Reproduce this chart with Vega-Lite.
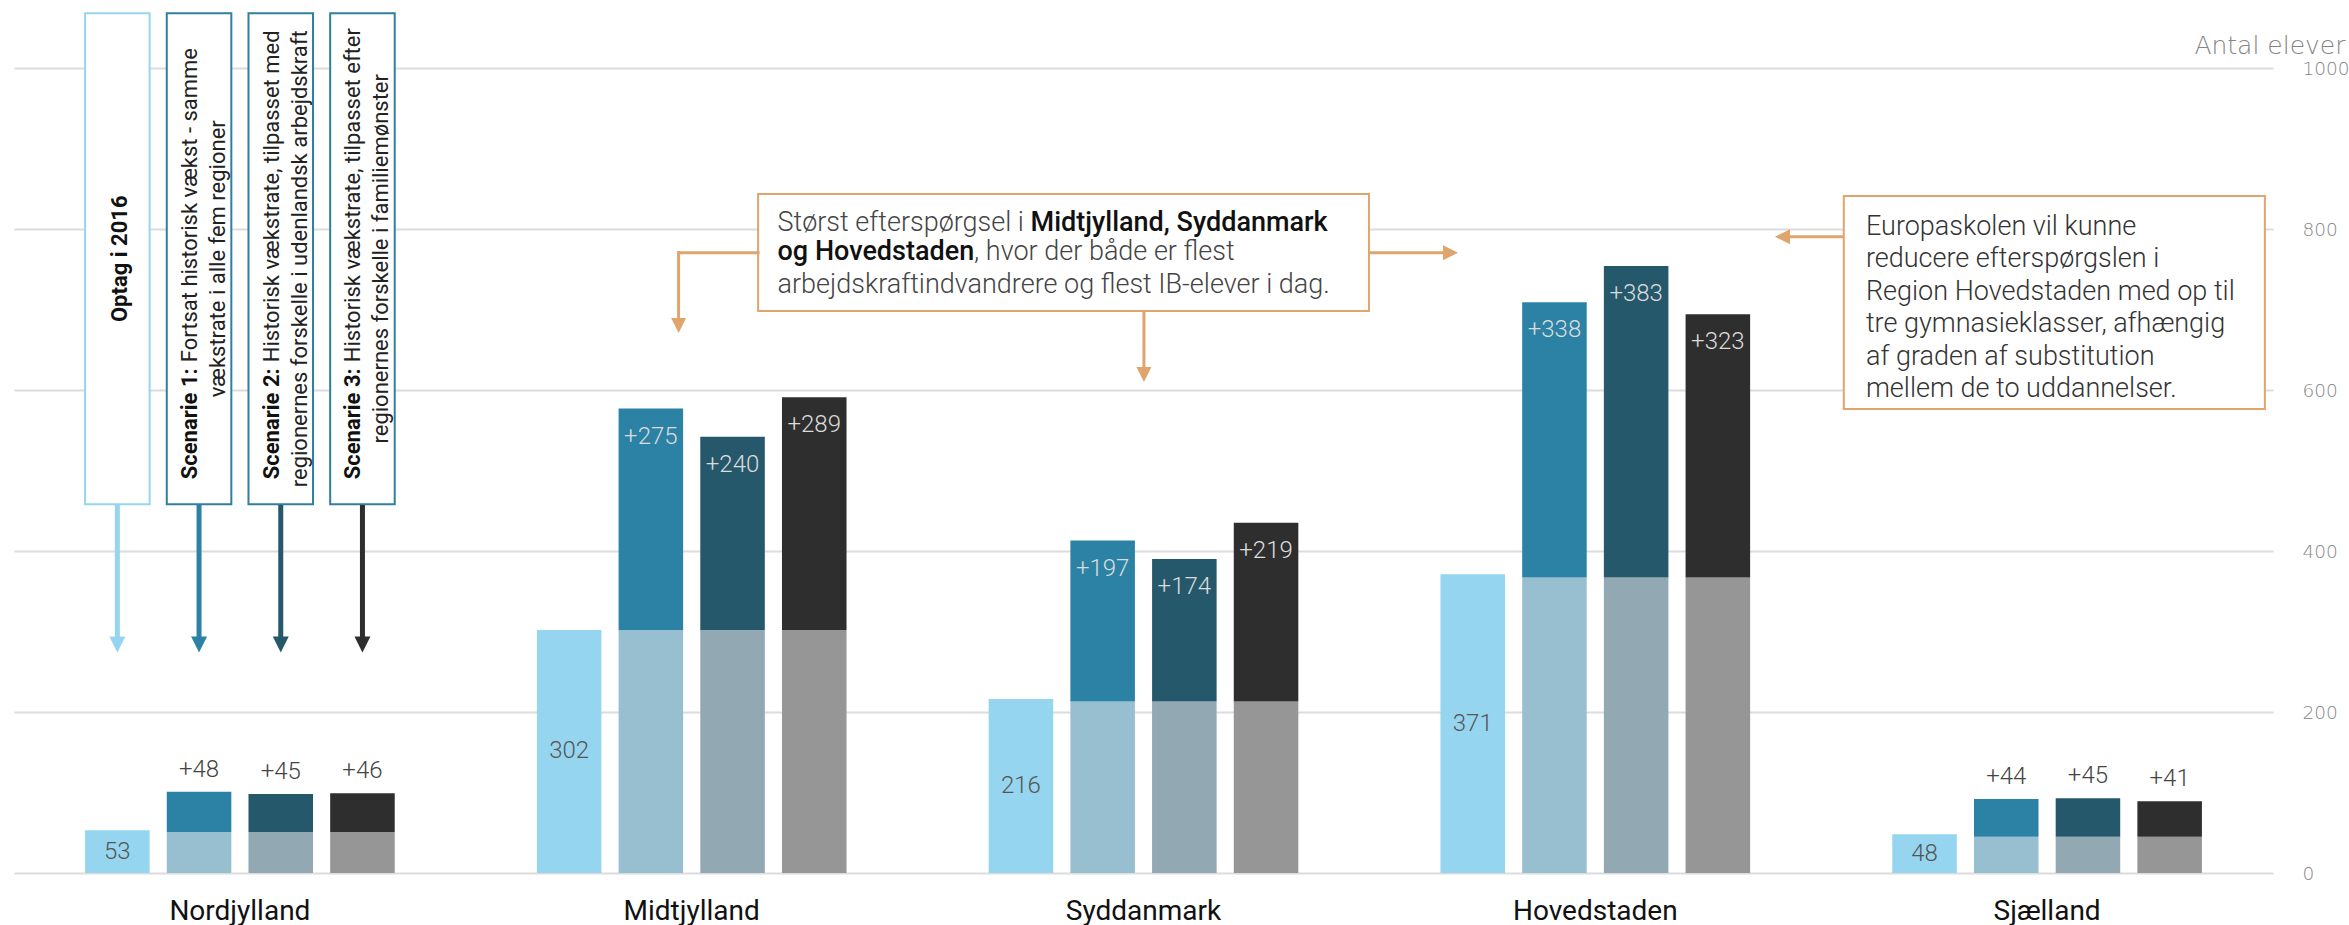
{
  "$schema": "https://vega.github.io/schema/vega-lite/v6.json",
  "autosize": {"type": "none"},
  "width": 2259,
  "height": 805,
  "padding": {"left": 14, "top": 68, "right": 76, "bottom": 52},
  "background": "white",
  "config": {"view": {"stroke": null}, "font": "Roboto"},
  "datasets": {
    "elever": [
      {"region": "Nordjylland", "serie": "Optag i 2016", "basis": 53},
      {"region": "Nordjylland", "serie": "Scenarie 1", "basis": 51, "i_alt": 101, "tilvaekst": 48},
      {"region": "Nordjylland", "serie": "Scenarie 2", "basis": 51, "i_alt": 98, "tilvaekst": 45},
      {"region": "Nordjylland", "serie": "Scenarie 3", "basis": 51, "i_alt": 99, "tilvaekst": 46},
      {"region": "Midtjylland", "serie": "Optag i 2016", "basis": 302},
      {"region": "Midtjylland", "serie": "Scenarie 1", "basis": 302, "i_alt": 577, "tilvaekst": 275},
      {"region": "Midtjylland", "serie": "Scenarie 2", "basis": 302, "i_alt": 542, "tilvaekst": 240},
      {"region": "Midtjylland", "serie": "Scenarie 3", "basis": 302, "i_alt": 591, "tilvaekst": 289},
      {"region": "Syddanmark", "serie": "Optag i 2016", "basis": 216},
      {"region": "Syddanmark", "serie": "Scenarie 1", "basis": 213, "i_alt": 413, "tilvaekst": 197},
      {"region": "Syddanmark", "serie": "Scenarie 2", "basis": 213, "i_alt": 390, "tilvaekst": 174},
      {"region": "Syddanmark", "serie": "Scenarie 3", "basis": 213, "i_alt": 435, "tilvaekst": 219},
      {"region": "Hovedstaden", "serie": "Optag i 2016", "basis": 371},
      {"region": "Hovedstaden", "serie": "Scenarie 1", "basis": 367, "i_alt": 709, "tilvaekst": 338},
      {"region": "Hovedstaden", "serie": "Scenarie 2", "basis": 367, "i_alt": 754, "tilvaekst": 383},
      {"region": "Hovedstaden", "serie": "Scenarie 3", "basis": 367, "i_alt": 694, "tilvaekst": 323},
      {"region": "Sjælland", "serie": "Optag i 2016", "basis": 48},
      {"region": "Sjælland", "serie": "Scenarie 1", "basis": 45, "i_alt": 92, "tilvaekst": 44},
      {"region": "Sjælland", "serie": "Scenarie 2", "basis": 45, "i_alt": 93, "tilvaekst": 45},
      {"region": "Sjælland", "serie": "Scenarie 3", "basis": 45, "i_alt": 89, "tilvaekst": 41}
    ],
    "forklaringer": [
      {"serie": "Optag i 2016", "fed": "Optag i 2016", "linje1": "", "linje2": ""},
      {"serie": "Scenarie 1", "fed": "Scenarie 1:", "linje1": "Fortsat historisk vækst - samme", "linje2": "vækstrate i alle fem regioner"},
      {"serie": "Scenarie 2", "fed": "Scenarie 2:", "linje1": "Historisk vækstrate, tilpasset med", "linje2": "regionernes forskelle i udenlandsk arbejdskraft"},
      {"serie": "Scenarie 3", "fed": "Scenarie 3:", "linje1": "Historisk vækstrate, tilpasset efter", "linje2": "regionernes forskelle i familiemønster"}
    ]
  },
  "resolve": {"scale": {"x": "independent"}, "axis": {"x": "independent"}},
  "layer": [
    {
      "data": {"name": "elever"},
      "layer": [
        {
          "mark": {"type": "bar"},
          "encoding": {
            "x": {"field": "region", "type": "nominal",
              "scale": {"domain": ["Nordjylland", "Midtjylland", "Syddanmark", "Hovedstaden", "Sjælland"], "paddingInner": 0, "paddingOuter": 0},
              "axis": {"title": null, "domain": false, "ticks": false, "labelAngle": 0, "labelFont": "Roboto", "labelFontSize": 28, "labelColor": "#111111", "labelPadding": 24}},
            "xOffset": {"field": "serie", "type": "nominal",
              "scale": {"domain": ["Optag i 2016", "Scenarie 1", "Scenarie 2", "Scenarie 3"], "paddingInner": 0.21, "paddingOuter": 0.87}},
            "y": {"field": "basis", "type": "quantitative", "stack": null,
              "scale": {"domain": [0, 1000], "nice": false},
              "axis": {"orient": "right", "values": [0, 200, 400, 600, 800, 1000], "format": "d", "grid": true, "gridColor": "#dcdcdc", "gridWidth": 2,
                "domain": false, "ticks": false, "labelPadding": 29, "labelAlign": "left", "labelFlush": false, "labelBound": false,
                "labelFont": "DejaVu Sans", "labelFontSize": 18.5, "labelFontWeight": 200, "labelColor": "#858585",
                "title": "Antal elever", "titleFont": "DejaVu Sans", "titleFontSize": 25, "titleFontWeight": 200, "titleColor": "#858585",
                "titleAngle": 0, "titleAlign": "right", "titleBaseline": "middle", "titleX": 72, "titleY": -23}},
            "color": {"field": "serie", "type": "nominal",
              "scale": {"domain": ["Optag i 2016", "Scenarie 1", "Scenarie 2", "Scenarie 3"], "range": ["#95d5ef", "#97bfd0", "#92a9b3", "#969696"]},
              "legend": null}
          }
        },
        {
          "transform": [{"filter": "isValid(datum.i_alt)"}],
          "mark": {"type": "bar"},
          "encoding": {
            "x": {"field": "region", "type": "nominal"},
            "xOffset": {"field": "serie", "type": "nominal"},
            "y": {"field": "basis", "type": "quantitative", "stack": null},
            "y2": {"field": "i_alt"},
            "fill": {"field": "serie", "type": "nominal",
              "scale": {"domain": ["Optag i 2016", "Scenarie 1", "Scenarie 2", "Scenarie 3"], "range": ["#95d5ef", "#2b82a5", "#26586b", "#2e2e2e"]},
              "legend": null}
          }
        },
        {
          "transform": [{"filter": "datum.serie === 'Optag i 2016'"}],
          "mark": {"type": "text", "fontSize": 24, "fontWeight": 300, "color": "#555555", "baseline": "middle"},
          "encoding": {
            "x": {"field": "region", "type": "nominal"},
            "xOffset": {"field": "serie", "type": "nominal"},
            "y": {"field": "basis", "type": "quantitative", "stack": "zero", "bandPosition": 0.5},
            "text": {"field": "basis", "type": "quantitative"}
          }
        },
        {
          "transform": [{"filter": "datum.tilvaekst >= 100"}],
          "mark": {"type": "text", "fontSize": 24, "fontWeight": 300, "color": "#dcdcdc", "baseline": "middle", "dy": 28},
          "encoding": {
            "x": {"field": "region", "type": "nominal"},
            "xOffset": {"field": "serie", "type": "nominal"},
            "y": {"field": "i_alt", "type": "quantitative", "stack": null},
            "text": {"field": "tilvaekst", "type": "quantitative", "format": "+d"}
          }
        },
        {
          "transform": [{"filter": "datum.tilvaekst < 100"}],
          "mark": {"type": "text", "fontSize": 24, "fontWeight": 300, "color": "#444444", "baseline": "middle", "dy": -22},
          "encoding": {
            "x": {"field": "region", "type": "nominal"},
            "xOffset": {"field": "serie", "type": "nominal"},
            "y": {"field": "i_alt", "type": "quantitative", "stack": null},
            "text": {"field": "tilvaekst", "type": "quantitative", "format": "+d"}
          }
        },
        {
          "data": {"name": "forklaringer"},
          "mark": {"type": "bar", "fill": "white", "strokeWidth": 2},
          "encoding": {
            "x": {"datum": "Nordjylland", "type": "nominal"},
            "xOffset": {"field": "serie", "type": "nominal"},
            "y": {"datum": 1068, "type": "quantitative"},
            "y2": {"datum": 458},
            "stroke": {"condition": {"test": "datum.serie === 'Optag i 2016'", "value": "#95d5ef"}, "value": "#2f7fa1"}
          }
        },
        {
          "data": {"name": "forklaringer"},
          "mark": {"type": "rule", "strokeWidth": 5},
          "encoding": {
            "x": {"datum": "Nordjylland", "type": "nominal"},
            "xOffset": {"field": "serie", "type": "nominal"},
            "y": {"datum": 457, "type": "quantitative"},
            "y2": {"datum": 292},
            "stroke": {"field": "serie", "type": "nominal",
              "scale": {"domain": ["Optag i 2016", "Scenarie 1", "Scenarie 2", "Scenarie 3"], "range": ["#95d5ef", "#2b82a5", "#26586b", "#2e2e2e"]},
              "legend": null}
          }
        },
        {
          "data": {"name": "forklaringer"},
          "mark": {"type": "point", "shape": "M-1,-1L1,-1L0,1Z", "size": 256, "filled": true, "opacity": 1, "strokeWidth": 0},
          "encoding": {
            "x": {"datum": "Nordjylland", "type": "nominal"},
            "xOffset": {"field": "serie", "type": "nominal"},
            "y": {"datum": 283.9, "type": "quantitative"},
            "fill": {"field": "serie", "type": "nominal", "legend": null}
          }
        },
        {
          "data": {"name": "forklaringer"},
          "transform": [{"filter": "datum.serie === 'Optag i 2016'"}],
          "mark": {"type": "text", "angle": 270, "align": "center", "baseline": "middle", "dy": 3, "fontSize": 22, "fontWeight": 700, "color": "#111111"},
          "encoding": {
            "x": {"datum": "Nordjylland", "type": "nominal"},
            "xOffset": {"field": "serie", "type": "nominal"},
            "y": {"datum": 763, "type": "quantitative"},
            "text": {"field": "fed"}
          }
        },
        {
          "data": {"name": "forklaringer"},
          "transform": [{"filter": "datum.serie !== 'Optag i 2016'"}],
          "mark": {"type": "text", "angle": 270, "align": "right", "baseline": "middle", "dy": -9, "fontSize": 22, "fontWeight": 700, "color": "#111111"},
          "encoding": {
            "x": {"datum": "Nordjylland", "type": "nominal"},
            "xOffset": {"field": "serie", "type": "nominal"},
            "y": {"datum": 627, "type": "quantitative"},
            "text": {"field": "fed"}
          }
        },
        {
          "data": {"name": "forklaringer"},
          "transform": [{"filter": "datum.serie !== 'Optag i 2016'"}],
          "mark": {"type": "text", "angle": 270, "align": "left", "baseline": "middle", "dx": 6, "dy": -9, "fontSize": 22, "fontWeight": 400, "color": "#222222"},
          "encoding": {
            "x": {"datum": "Nordjylland", "type": "nominal"},
            "xOffset": {"field": "serie", "type": "nominal"},
            "y": {"datum": 627, "type": "quantitative"},
            "text": {"field": "linje1"}
          }
        },
        {
          "data": {"name": "forklaringer"},
          "transform": [{"filter": "datum.serie !== 'Optag i 2016'"}],
          "mark": {"type": "text", "angle": 270, "align": "center", "baseline": "middle", "dy": 19, "fontSize": 22, "fontWeight": 400, "color": "#222222"},
          "encoding": {
            "x": {"datum": "Nordjylland", "type": "nominal"},
            "xOffset": {"field": "serie", "type": "nominal"},
            "y": {"datum": 763, "type": "quantitative"},
            "text": {"field": "linje2"}
          }
        }
      ]
    },
    {
      "data": {"values": [{}]},
      "layer": [
        {
          "mark": {"type": "rect", "fill": "white", "stroke": "#e0a46d", "strokeWidth": 2},
          "encoding": {
            "x": {"datum": 1.647, "type": "quantitative", "scale": {"domain": [0, 5], "nice": false, "zero": false}, "axis": null},
            "x2": {"datum": 2.999},
            "y": {"datum": 843.5, "type": "quantitative"},
            "y2": {"datum": 698}
          }
        },
        {
          "mark": {"type": "rect", "fill": "white", "stroke": "#e0a46d", "strokeWidth": 2},
          "encoding": {
            "x": {"datum": 4.05, "type": "quantitative"},
            "x2": {"datum": 4.982},
            "y": {"datum": 841, "type": "quantitative"},
            "y2": {"datum": 576.4}
          }
        },
        {
          "mark": {"type": "text", "text": "Størst efterspørgsel i", "align": "left", "baseline": "alphabetic", "fontSize": 27, "fontWeight": 300, "color": "#444444"},
          "encoding": {"x": {"datum": 1.69, "type": "quantitative"}, "y": {"datum": 797, "type": "quantitative"}}
        },
        {
          "mark": {"type": "text", "text": "Midtjylland, Syddanmark", "align": "left", "baseline": "alphabetic", "fontSize": 27, "fontWeight": 500, "color": "#111111"},
          "encoding": {"x": {"datum": 2.25, "type": "quantitative"}, "y": {"datum": 797, "type": "quantitative"}}
        },
        {
          "mark": {"type": "text", "text": "og Hovedstaden", "align": "left", "baseline": "alphabetic", "fontSize": 27, "fontWeight": 500, "color": "#111111"},
          "encoding": {"x": {"datum": 1.69, "type": "quantitative"}, "y": {"datum": 761, "type": "quantitative"}}
        },
        {
          "mark": {"type": "text", "text": ", hvor der både er flest", "align": "left", "baseline": "alphabetic", "fontSize": 27, "fontWeight": 300, "color": "#444444"},
          "encoding": {"x": {"datum": 2.125, "type": "quantitative"}, "y": {"datum": 761, "type": "quantitative"}}
        },
        {
          "mark": {"type": "text", "text": "arbejdskraftindvandrere og flest IB-elever i dag.", "align": "left", "baseline": "alphabetic", "fontSize": 27, "fontWeight": 300, "color": "#444444"},
          "encoding": {"x": {"datum": 1.69, "type": "quantitative"}, "y": {"datum": 720.5, "type": "quantitative"}}
        },
        {
          "mark": {"type": "text", "text": ["Europaskolen vil kunne", "reducere efterspørgslen i", "Region Hovedstaden med op til", "tre gymnasieklasser, afhængig", "af graden af substitution", "mellem de to uddannelser."],
            "align": "left", "baseline": "alphabetic", "lineHeight": 32.4, "fontSize": 27, "fontWeight": 300, "color": "#333333"},
          "encoding": {"x": {"datum": 4.099, "type": "quantitative"}, "y": {"datum": 792.5, "type": "quantitative"}}
        },
        {
          "mark": {"type": "rule", "stroke": "#e0a46d", "strokeWidth": 3, "strokeCap": "square"},
          "encoding": {"x": {"datum": 1.647, "type": "quantitative"}, "x2": {"datum": 1.471}, "y": {"datum": 770.5, "type": "quantitative"}}
        },
        {
          "mark": {"type": "rule", "stroke": "#e0a46d", "strokeWidth": 3, "strokeCap": "square"},
          "encoding": {"x": {"datum": 1.471, "type": "quantitative"}, "y": {"datum": 770.5, "type": "quantitative"}, "y2": {"datum": 688}}
        },
        {
          "mark": {"type": "point", "shape": "M-1,-1L1,-1L0,1Z", "size": 225, "filled": true, "opacity": 1, "color": "#e0a46d", "strokeWidth": 0},
          "encoding": {"x": {"datum": 1.471, "type": "quantitative"}, "y": {"datum": 680.1, "type": "quantitative"}}
        },
        {
          "mark": {"type": "rule", "stroke": "#e0a46d", "strokeWidth": 3},
          "encoding": {"x": {"datum": 2.999, "type": "quantitative"}, "x2": {"datum": 3.17}, "y": {"datum": 770.5, "type": "quantitative"}}
        },
        {
          "mark": {"type": "point", "shape": "M-1,-1L1,0L-1,1Z", "size": 225, "filled": true, "opacity": 1, "color": "#e0a46d", "strokeWidth": 0},
          "encoding": {"x": {"datum": 3.1795, "type": "quantitative"}, "y": {"datum": 770.5, "type": "quantitative"}}
        },
        {
          "mark": {"type": "rule", "stroke": "#e0a46d", "strokeWidth": 3},
          "encoding": {"x": {"datum": 2.501, "type": "quantitative"}, "y": {"datum": 698, "type": "quantitative"}, "y2": {"datum": 625}}
        },
        {
          "mark": {"type": "point", "shape": "M-1,-1L1,-1L0,1Z", "size": 225, "filled": true, "opacity": 1, "color": "#e0a46d", "strokeWidth": 0},
          "encoding": {"x": {"datum": 2.501, "type": "quantitative"}, "y": {"datum": 619.3, "type": "quantitative"}}
        },
        {
          "mark": {"type": "rule", "stroke": "#e0a46d", "strokeWidth": 3},
          "encoding": {"x": {"datum": 4.05, "type": "quantitative"}, "x2": {"datum": 3.92}, "y": {"datum": 790.4, "type": "quantitative"}}
        },
        {
          "mark": {"type": "point", "shape": "M1,-1L-1,0L1,1Z", "size": 225, "filled": true, "opacity": 1, "color": "#e0a46d", "strokeWidth": 0},
          "encoding": {"x": {"datum": 3.9143, "type": "quantitative"}, "y": {"datum": 790.4, "type": "quantitative"}}
        }
      ]
    }
  ]
}
